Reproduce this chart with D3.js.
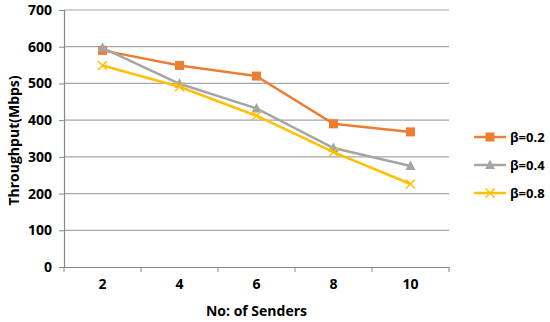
<!DOCTYPE html>
<html>
<head>
<meta charset="utf-8">
<script src="https://cdn.jsdelivr.net/npm/d3@7"></script>
<style>
	body { margin: 0; background: #fff; }
	text { font-family: "Open Sans", "Liberation Sans", sans-serif; font-weight: bold; fill: #000; }
</style>
</head>
<body>
<div id="chartDiv"></div>
<script>
// data
var senders = ["2", "4", "6", "8", "10"];
var yTicks = [0, 100, 200, 300, 400, 500, 600, 700];
var seriesNames = ["β=0.2", "β=0.4", "β=0.8"];
var beta02 = [590, 549, 520, 390, 368];
var beta04 = [597, 499, 432, 324, 275];
var beta08 = [549, 491, 412, 313, 226];
var colors = ["#ED7D31", "#A5A5A5", "#FFC000"];
var markers = ["square", "triangle", "cross"];

var width = 550, height = 322;
var margin = {left: 64, right: 101, top: 10, bottom: 55};

var svg = d3.select("#chartDiv").append("svg")
	.attr("width", width).attr("height", height);

var x = d3.scaleBand().domain(senders)
	.range([margin.left, width - margin.right]);
var y = d3.scaleLinear().domain([0, 700])
	.range([height - margin.bottom, margin.top]);

// gridlines
svg.append("g").selectAll("line")
	.data(yTicks.slice(1))
	.enter().append("line")
	.attr("x1", margin.left).attr("x2", width - margin.right)
	.attr("y1", function(d) { return y(d); })
	.attr("y2", function(d) { return y(d); })
	.attr("stroke", "#A6A6A6").attr("stroke-width", 1.2);

// y axis
var yAxis = svg.append("g")
	.attr("transform", "translate(" + margin.left + ",0)")
	.call(d3.axisLeft(y).tickValues(yTicks).tickSize(5).tickPadding(7));
yAxis.selectAll("text").style("font-size", "14px");

// x axis, ticks at band edges
var xAxis = svg.append("g")
	.attr("transform", "translate(0," + y(0) + ")")
	.call(d3.axisBottom(x).tickSize(0).tickPadding(12));
xAxis.selectAll("text").style("font-size", "14px");
var edges = senders.map(function(s) { return x(s); }).concat([x(senders[senders.length - 1]) + x.bandwidth()]);
xAxis.selectAll("line.edge")
	.data(edges)
	.enter().append("line").attr("class", "edge")
	.attr("x1", function(d) { return d; }).attr("x2", function(d) { return d; })
	.attr("y1", 0).attr("y2", 5)
	.attr("stroke", "#868686");

svg.selectAll(".domain").attr("stroke", "#868686").attr("stroke-width", 1.2);
yAxis.selectAll(".tick line").attr("stroke", "#868686");

// titles
svg.append("text")
	.attr("transform", "translate(14," + ((margin.top + y(0)) / 2 + 2) + ") rotate(-90)")
	.attr("text-anchor", "middle")
	.attr("dy", "0.35em")
	.style("font-size", "14px")
	.text("Throughput(Mbps)");
svg.append("text")
	.attr("x", (margin.left + width - margin.right) / 2)
	.attr("y", 316)
	.attr("text-anchor", "middle")
	.style("font-size", "14px")
	.text("No: of Senders");

function drawMarker(g, type, color) {
	if (type === "square") {
		g.append("rect").attr("x", -4.5).attr("y", -4.5).attr("width", 9).attr("height", 9)
			.attr("fill", color);
	} else if (type === "triangle") {
		g.append("path").attr("d", "M0,-5.5L5,4L-5,4Z").attr("fill", color);
	} else {
		g.append("path").attr("d", "M-4.5,-4.5L4.5,4.5M-4.5,4.5L4.5,-4.5")
			.attr("stroke", color).attr("stroke-width", 1.5).attr("fill", "none");
	}
}

var allSeries = [beta02, beta04, beta08];
var line = d3.line()
	.x(function(d, i) { return x(senders[i]) + x.bandwidth() / 2; })
	.y(function(d) { return y(d); });

allSeries.forEach(function(vals, si) {
	var g = svg.append("g");
	g.append("path").datum(vals)
		.attr("d", line)
		.attr("fill", "none")
		.attr("stroke", colors[si])
		.attr("stroke-width", 2.5);
	vals.forEach(function(v, i) {
		var m = g.append("g").attr("transform", "translate(" + (x(senders[i]) + x.bandwidth() / 2) + "," + y(v) + ")");
		drawMarker(m, markers[si], colors[si]);
	});
});

// legend
var legend = svg.append("g").attr("transform", "translate(474,137)");
seriesNames.forEach(function(name, i) {
	var row = legend.append("g").attr("transform", "translate(0," + (i * 28) + ")");
	row.append("line").attr("x1", 0).attr("x2", 32).attr("y1", 0).attr("y2", 0)
		.attr("stroke", colors[i]).attr("stroke-width", 2.5);
	var m = row.append("g").attr("transform", "translate(16,0)");
	drawMarker(m, markers[i], colors[i]);
	row.append("text").attr("x", 36).attr("y", 5)
		.style("font-size", "13px")
		.text(name);
});
</script>
</body>
</html>
